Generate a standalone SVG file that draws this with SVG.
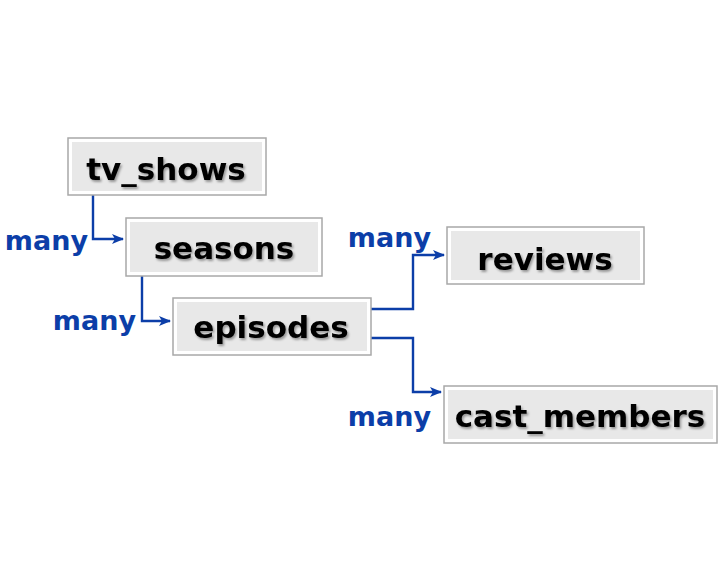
<svg xmlns="http://www.w3.org/2000/svg" width="720" height="576" viewBox="0 0 720 576">
<style>
.outer{fill:#ffffff;stroke:#a8a8a8;stroke-width:1.5}
.inner{fill:#e8e8e8}
.lbl{font-family:"DejaVu Sans",sans-serif;font-weight:bold;font-size:31px;fill:#000;text-anchor:middle;filter:url(#shadow)}
.many{font-family:"DejaVu Sans",sans-serif;font-weight:bold;font-size:27px;fill:#0c3ea8;text-anchor:end}
.conn{fill:none;stroke:#0c3ea8;stroke-width:2.4}
</style>
<defs>
<filter id="shadow" x="-10%" y="-30%" width="120%" height="160%">
<feDropShadow dx="1.5" dy="2" stdDeviation="1.2" flood-color="#000" flood-opacity="0.35"/>
</filter>
<marker id="arr" markerWidth="14" markerHeight="14" refX="11" refY="7" orient="auto" markerUnits="userSpaceOnUse">
<path d="M0,2 L12,7 L0,12 L3,7 Z" fill="#0c3ea8"/>
</marker>
</defs>
<rect width="720" height="576" fill="#ffffff"/>
<g id="connectors">
<path class="conn" d="M93,195 V239 H123" marker-end="url(#arr)"/>
<path class="conn" d="M142,276 V321 H170" marker-end="url(#arr)"/>
<path class="conn" d="M371,309 H413 V255 H444" marker-end="url(#arr)"/>
<path class="conn" d="M371,338 H413 V392 H441" marker-end="url(#arr)"/>
<text class="many" x="88" y="250">many</text>
<text class="many" x="136" y="330">many</text>
<text class="many" x="431" y="247">many</text>
<text class="many" x="431" y="426">many</text>
</g>
<g id="tv_shows">
<rect class="outer" x="68" y="138" width="198" height="57"/>
<rect class="inner" x="72" y="142" width="190" height="49"/>
<text class="lbl" x="166" y="180">tv_shows</text>
</g>
<g id="seasons">
<rect class="outer" x="126" y="218" width="196" height="58"/>
<rect class="inner" x="130" y="222" width="188" height="50"/>
<text class="lbl" x="224" y="259">seasons</text>
</g>
<g id="episodes">
<rect class="outer" x="173" y="298" width="198" height="57"/>
<rect class="inner" x="177" y="302" width="190" height="49"/>
<text class="lbl" x="271" y="338">episodes</text>
</g>
<g id="reviews">
<rect class="outer" x="447" y="227" width="197" height="57"/>
<rect class="inner" x="451" y="231" width="189" height="49"/>
<text class="lbl" x="545" y="270">reviews</text>
</g>
<g id="cast_members">
<rect class="outer" x="444" y="386" width="273" height="57"/>
<rect class="inner" x="448" y="390" width="265" height="49"/>
<text class="lbl" x="580" y="427">cast_members</text>
</g>
</svg>
